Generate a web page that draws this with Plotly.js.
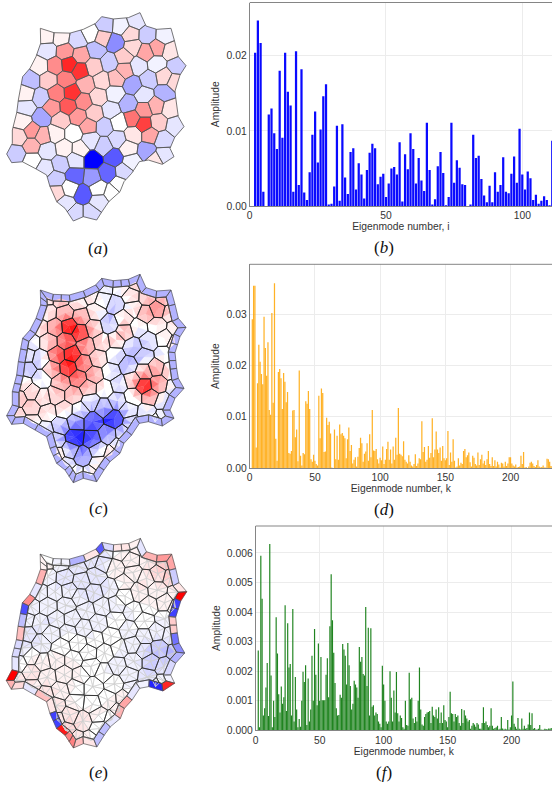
<!DOCTYPE html>
<html><head><meta charset="utf-8">
<script src="https://cdn.plot.ly/plotly-3.0.1.min.js"></script>
<style>html,body{margin:0;padding:0;background:#fff;overflow:hidden}</style>
</head><body><div id="chart" style="width:552px;height:787px"></div>
<script>
// ---- bar chart data (amplitudes, index = eigenmode number - 1) ----
const ampB = [0,.0204,.0247,.0217,.0019,0,.0122,.013,.0097,.0076,
.018,.0091,.0204,.0152,.0134,.0019,.0206,.0028,.0182,.0018,
.0008,.0045,.0095,.0126,.0058,.0102,.0146,.0162,.0002,.0003,
.0026,.0107,.0007,.0109,.0038,.0016,.0072,.0077,.0022,.0057,
.0042,.001,.0048,.0071,.0083,.0077,.0029,.0039,.0043,.0012,
.003,.005,.0052,.0042,.0085,.0006,.0069,.0049,.0097,.0076,
.003,.0064,.0034,.002,.0111,.0048,.0002,.0009,.0053,.0072,
.0044,.0001,.0012,.0111,.0031,.0061,.0051,.0029,.0028,0,
.0002,.0095,.0064,.0067,.0036,.0014,.0005,.0027,.0005,.0045,
.0019,.0028,.0065,.0019,.0017,.0043,.0066,.0031,.0103,.0042,
.0022,.0046,.0037,.0008,.0015,.0003,.0007,.0013,.0008,.0001,.0087];
const ampD = [0,290,355,355,40,165,240,207,183,163,
295,234,180,245,113,104,302,127,360,57,
14,187,193,175,115,185,168,128,148,29,
28,33,112,113,60,75,13,190,24,5,
29,27,130,125,150,115,17,12,26,14,
8,5,141,58,155,146,31,32,98,84,
90,67,1,0,75,17,63,16,85,66,
68,63,58,19,56,79,33,45,9,16,
21,3,22,39,59,48,12,28,32,48,
14,66,21,113,34,33,37,17,9,20,
15,42,8,16,37,51,16,36,9,42,
16,59,26,117,28,26,23,52,16,12,
9,25,12,5,3,8,27,4,9,19,
17,91,31,41,12,16,43,20,29,97,
21,36,71,36,29,40,14,43,19,15,
19,72,6,30,12,56,14,1,3,19,
5,10,8,33,37,21,25,30,11,3,
24,20,8,5,30,6,17,26,9,14,
6,17,33,8,4,21,4,15,3,12,
7,1,10,9,3,12,4,9,21,21,
9,5,3,7,1,2,3,24,8,31,
1,2,0,3,10,12,9,4,2,6,
15,3,1,2,5,1,1,18,17,12,
4,3].map(v=>v/10000);
const ampF = [0,270,10,590,445,50,75,145,228,48,
630,185,10,100,45,382,260,122,60,148,
90,112,423,65,362,212,224,50,410,30,
180,70,10,38,12,100,198,163,220,18,
175,30,70,252,100,343,188,85,294,100,
248,102,102,102,188,244,112,352,528,372,
262,160,75,50,52,120,110,292,273,252,
155,295,220,150,70,90,168,155,145,110,
282,232,248,190,185,417,150,347,50,345,
80,85,50,60,55,30,22,10,218,155,
100,30,22,30,200,110,30,135,60,197,
58,30,50,42,10,5,100,18,15,195,
105,110,40,25,45,30,100,212,70,20,
15,45,55,60,62,65,25,80,50,45,
70,40,78,25,60,25,85,35,30,10,
45,130,58,55,30,55,45,50,25,15,
72,25,68,50,40,30,35,5,15,25,
20,12,25,20,5,5,25,78,25,30,
18,10,15,75,15,5,8,10,15,3,
5,45,6,3,5,3,35,3,10,50,
165,22,12,5,42,5,3,40,5,15,
5,8,20,60,18,58,5,8,3,3,
5,18,3,2,2,5,4,3,6,5,
8,3].map(v=>v/100000);

const outX = [121,160,208,250,287,305,340,385,420,438,470,513,525,535,558,540,525,530,535,552,525,510,522,487,445,418,395,372,360,330,312,290,250,220,195,170,150,140,105,70,35,20,37,37,50,55,62,68,90,108,122];
const outY = [85,98,100,88,70,50,57,53,38,78,88,85,128,170,197,225,273,320,350,380,410,445,470,493,480,485,520,545,575,600,625,660,650,663,625,605,560,525,505,485,488,462,430,390,340,300,262,230,205,170,130];
const ringE = [.02,-.03,-.3,.1,-.65,-.15,.12,.03,-.08,.3,.4,.35,-.2,.08,1,-.75,.2,-.55,-.45,-.3,-.15,-.05,.85,-.85,-.05,-.08,.35,.3,-.12,-.25,-.25,.08,.25,.5,.9,-.75,.12,.25,-.12,.15,.3,1,-.08,-.15,.25,-.25,-.7,.45,-.08,.3,.04];
const seedX = [140,182,233,272,315,362,408,308,346,392,442,493,
143,195,243,288,328,372,398,438,472,511,415,470,530,
120,165,207,240,282,374,348,306,258,198,145,93,398,447,492,524,
78,122,170,216,295,345,432,493,385,250,
205,155,80,333,283,432,468,510,125,68,
183,235,397,475,432,525,265,313,357,95,
57,128,168,220,272,312,400,352,450,490,
95,142,193,240,385,440,50,96,226,278,
342,395,492,465,135,182,225,277,322,372,
168,170,210,248,295,358,335,197,298,227,272];
const seedY = [108,112,120,100,75,78,62,113,128,103,105,108,
152,155,165,150,188,170,140,157,143,153,198,192,198,
198,197,193,212,200,210,235,242,254,238,240,240,255,238,230,245,
282,293,280,278,290,282,285,278,312,305,
318,322,322,330,340,330,317,327,352,365,
362,350,355,367,373,377,378,380,367,392,
410,408,400,400,420,438,405,418,405,420,
437,452,445,447,445,452,462,482,480,480,
472,485,465,480,505,492,527,533,519,515,
537,578,565,582,565,553,578,610,605,640,640];
const valA = [.03,.04,-.15,.02,-.22,-.03,-.1,.18,-.45,.15,-.2,-.03,
-.1,.4,.35,-.25,-.2,.2,.17,.33,.35,.1,-.1,-.06,-.2,
.06,.45,.85,.8,.22,.28,.25,.17,.3,.5,.18,-.25,-.35,-.2,.13,.15,
.03,-.2,.5,.8,.17,-.05,-.08,-.28,-.28,.45,
.65,.4,-.1,-.1,.2,.42,.28,.1,-.35,.03,
.2,.4,.55,.2,.75,-.08,.33,-.22,-.02,.4,
.15,.3,.04,.01,-.08,-.22,.1,-.13,.35,-.13,
.28,-.1,.03,.05,.03,-.35,-.22,-.01,-.08,-1,
-.65,-.05,-.12,.08,-.08,-.18,-.62,-.4,-.6,-.17,
-.2,.15,-.02,-.65,-.02,-.01,-.02,-.1,-.08,-.17,-.17];
const valC = [.15,.2,.05,.1,-.1,.03,.15,0,-.25,.1,.2,.2,
.05,.3,.3,.05,-.3,.15,.05,.3,.45,.15,-.05,.05,.05,
.1,.4,.95,.8,.25,.3,.2,.15,.35,.55,.2,-.1,-.25,-.15,.05,.1,
-.1,-.15,.6,.9,.15,-.1,-.2,-.05,-.3,.5,
.9,.3,-.25,-.1,.3,.3,.35,.1,-.1,.1,
.3,.55,.25,.4,.95,-.1,.25,.05,-.15,.15,
.2,.1,.2,.25,-.15,-.3,.05,-.2,.4,-.1,
.2,.1,.1,-.12,-.1,-.1,.1,.05,-.4,-.7,
-.9,-.15,-.05,.02,-.1,-.25,-.95,-.7,-.35,-.15,
-.2,.2,-.25,-.45,-.1,-.02,.15,-.05,.1,0,0];
const valE = [.05,-.03,-.12,-.08,-.08,.05,.05,-.08,.08,.06,.08,.25,
-.03,-.12,-.12,-.12,-.08,.04,.04,.08,.15,.2,.08,.06,.08,
-.08,-.06,-.06,-.08,-.12,0,-.03,-.04,-.06,-.04,-.04,-.04,-.03,.03,.06,.08,
-.04,-.08,-.08,-.06,-.03,-.02,0,-.04,-.03,-.04,
-.03,-.06,-.1,-.02,-.02,-.06,-.04,-.04,-.08,-.1,
0,0,-.04,-.25,-.15,-.3,0,0,-.02,.03,
-.02,.04,.04,.03,0,-.02,-.04,-.04,-.2,-.15,
.1,.06,.04,.03,-.04,-.15,.08,.08,.02,0,
0,-.06,-.03,0,.12,.06,.02,0,.03,.08,
.1,.08,.12,.12,.04,.08,-.04,.15,-.04,.08,.04];
const ringCValue = -.3;

// ---- text ----
const xTitles = ['Eigenmode number, i','Eigenmode number, k','Eigenmode number, k'];
const captions = ['a','b','c','d','e','f'];

// ---- geometry helpers ----
function clipHalf(poly,ax,ay,bx,by){ // keep points closer to a than b
  const mx=(ax+bx)/2,my=(ay+by)/2,nx=bx-ax,ny=by-ay,out=[];
  const side=p=>(p[0]-mx)*nx+(p[1]-my)*ny;
  for(let i=0;i<poly.length;i++){
    const p=poly[i],q=poly[(i+1)%poly.length],sp=side(p),sq=side(q);
    if(sp<=0) out.push(p);
    if((sp<0&&sq>0)||(sp>0&&sq<0)){const t=sp/(sp-sq);out.push([p[0]+t*(q[0]-p[0]),p[1]+t*(q[1]-p[1])]);}
  }
  return out;
}
const outline = outX.map((x,i)=>[x,outY[i]]);
const N = outline.length;
function insetOutline(d){
  let area=0; for(let i=0;i<N;i++){const a=outline[i],b=outline[(i+1)%N];area+=a[0]*b[1]-b[0]*a[1];}
  const s=area>0?1:-1;
  return outline.map((p,i)=>{
    const a=outline[(i-1+N)%N],b=outline[(i+1)%N];
    const u=[p[0]-a[0],p[1]-a[1]],v=[b[0]-p[0],b[1]-p[1]];
    const lu=Math.hypot(...u),lv=Math.hypot(...v);
    const n1=[-u[1]/lu*s,u[0]/lu*s],n2=[-v[1]/lv*s,v[0]/lv*s];
    let nx=n1[0]+n2[0],ny=n1[1]+n2[1];const l=Math.hypot(nx,ny)||1;nx/=l;ny/=l;
    const c=Math.max(.6,nx*n1[0]+ny*n1[1]);
    return [p[0]+nx*d/c,p[1]+ny*d/c];
  });
}
function cells(boundary){
  return seedX.map((x,i)=>{
    let poly=boundary.slice();
    const y=seedY[i];
    seedX.forEach((x2,j)=>{ if(j!==i&&poly.length) poly=clipHalf(poly,x,y,x2,seedY[j]); });
    return poly;
  });
}
function colorOf(v){
  v=Math.max(-1,Math.min(1,Math.round(v*20)/20));
  const t=Math.abs(v),w=Math.round(255*(1-t));
  return v>=0?`rgb(255,${w},${w})`:`rgb(${w},${w},255)`;
}
function nearestOther(i,m){
  let best=-1,bd=1e9;
  seedX.forEach((x,j)=>{ if(j===i)return; const d=Math.hypot(x-m[0],seedY[j]-m[1]); if(d<bd){bd=d;best=j;} });
  return best;
}

// ---- trace builders ----
const traces=[];
function addFills(groups,tf){
  Object.keys(groups).forEach(col=>{
    const xs=[],ys=[];
    groups[col].forEach(poly=>{
      poly.forEach(p=>{const q=tf(p);xs.push(q[0]);ys.push(q[1]);});
      const q=tf(poly[0]);xs.push(q[0],null);ys.push(q[1],null);
    });
    traces.push({type:'scatter',mode:'lines',x:xs,y:ys,xaxis:'x4',yaxis:'y4',fill:'toself',fillcolor:col,
      line:{color:col,width:.4},hoverinfo:'skip',showlegend:false});
  });
}
function addLines(polys,tf,color,width){
  const xs=[],ys=[];
  polys.forEach(poly=>{
    poly.forEach(p=>{const q=tf(p);xs.push(q[0]);ys.push(q[1]);});
    const q=tf(poly[0]);xs.push(q[0],null);ys.push(q[1],null);
  });
  traces.push({type:'scatter',mode:'lines',x:xs,y:ys,xaxis:'x4',yaxis:'y4',
    line:{color:color,width:width},hoverinfo:'skip',showlegend:false});
}
function group(g,v,poly){const c=colorOf(v);(g[c]=g[c]||[]).push(poly);}

// panel (a): plain cells
(function(){
  const tf=p=>[p[0]/3,p[1]/3];
  const cs=cells(outline),g={};
  cs.forEach((c,i)=>{ if(c.length) group(g,valA[i],c); });
  addFills(g,tf);
  addLines(cs.filter(c=>c.length),tf,'#555555',.8);
})();

// panels (c), (e): ring of boundary quads, inner cells split into triangles
function triangulated(vals,ringVal,tf,spokeColor,cellColor,cellWidth){
  const inner=insetOutline(20);
  const cs=cells(inner),g={},quads=[],spokes=[];
  for(let i=0;i<N;i++){
    const a=outline[i],b=outline[(i+1)%N],c=inner[(i+1)%N],d=inner[i];
    const n=Math.max(1,Math.round(Math.hypot(b[0]-a[0],b[1]-a[1])/30));
    for(let k=0;k<n;k++){
      const s=k/n,t=(k+1)/n;
      const L=(p,q,u)=>[p[0]+(q[0]-p[0])*u,p[1]+(q[1]-p[1])*u];
      const q=[L(a,b,s),L(a,b,t),L(d,c,t),L(d,c,s)];
      group(g,ringVal(i),q);quads.push(q);
    }
  }
  cs.forEach((c,i)=>{
    if(!c.length)return;
    const o=[seedX[i],seedY[i]];
    c.forEach((p,k)=>{
      const q=c[(k+1)%c.length];
      if(Math.hypot(p[0]-q[0],p[1]-q[1])<.5)return;
      const m=[(p[0]+q[0])/2,(p[1]+q[1])/2],j=nearestOther(i,m);
      group(g,.7*vals[i]+.3*vals[j],[o,p,q]);
      spokes.push([o,p]);
    });
  });
  addFills(g,tf);
  addLines(spokes,tf,spokeColor,.6);
  addLines(cs.filter(c=>c.length),tf,cellColor,cellWidth);
  addLines(quads,tf,'#4d4d4d',.65);
}
triangulated(valC,()=>ringCValue,p=>[p[0]/3,(p[1]+5)/3+260],'rgba(255,255,255,0)','#1f1f1f',.85);
triangulated(valE,i=>ringE[i],p=>[(p[0]-280)*1.006/3+93.5,(p[1]-350)*1.006/3+120+520+3],'#cfcfcf','#2b2b2b',.75);

// ---- bars ----
const idx=a=>a.map((_,i)=>i+1);
traces.push({type:'bar',x:idx(ampB),y:ampB,xaxis:'x',yaxis:'y',width:.82,marker:{color:'rgb(10,10,255)',line:{width:0}},hoverinfo:'skip',showlegend:false});
traces.push({type:'bar',x:idx(ampD),y:ampD,xaxis:'x2',yaxis:'y2',width:.95,marker:{color:'rgba(255,165,0,.85)',line:{width:0}},hoverinfo:'skip',showlegend:false});
traces.push({type:'bar',x:idx(ampF),y:ampF,xaxis:'x3',yaxis:'y3',width:.92,marker:{color:'rgba(20,125,20,.95)',line:{width:0}},hoverinfo:'skip',showlegend:false});

const W=552,H=787;
const tickFont={family:'Liberation Sans, Arial, sans-serif',size:10.3,color:'#333'};
const frame='#858585';
function xAx(l,xmax,dt,title,anchor){return {domain:[l/W,1],range:[0,xmax],dtick:dt,tick0:0,showgrid:true,gridcolor:'#ececec',gridwidth:1,
  zeroline:false,showline:true,linecolor:frame,linewidth:1,ticks:'',tickfont:tickFont,anchor:anchor,
  title:{text:title,font:tickFont,standoff:2}};}
function yAx(t,b,ymax,dt,fmt,anchor){return {domain:[1-b/H,1-t/H],range:[0,ymax],dtick:dt,tick0:0,tickformat:fmt,showgrid:true,gridcolor:'#ececec',gridwidth:1,
  zeroline:false,showline:true,linecolor:frame,linewidth:1,ticks:'',tickfont:tickFont,anchor:anchor,
  title:{text:'Amplitude',font:tickFont,standoff:4}};}
function topLine(l,y){return {type:'line',xref:'paper',yref:'paper',x0:l/W,x1:1,y0:1-y/H,y1:1-y/H,line:{color:frame,width:1}};}
const capPos=[[98,248],[384,247],[98,508],[384,510],[98,772],[384,772]];
const layout={width:W,height:H,margin:{l:0,r:0,t:0,b:0},paper_bgcolor:'#fff',plot_bgcolor:'rgba(0,0,0,0)',barmode:'overlay',showlegend:false,
  xaxis:xAx(249.7,110.9,50,xTitles[0],'y'),yaxis:yAx(2.5,206,.0271,.01,'.2f','x'),
  xaxis2:xAx(249.7,231.8,50,xTitles[1],'y2'),yaxis2:yAx(264.3,468,.0397,.01,'.2f','x2'),
  xaxis3:xAx(255.7,231.6,50,xTitles[2],'y3'),yaxis3:yAx(526,730.3,.00691,.001,'.3f','x3'),
  xaxis4:{domain:[0,1],range:[0,W],visible:false,anchor:'y4'},yaxis4:{domain:[0,1],range:[H,0],visible:false,anchor:'x4'},
  shapes:[topLine(249.7,2.5),topLine(249.7,264.3),topLine(255.7,526)],
  annotations:captions.map((c,i)=>({xref:'paper',yref:'paper',x:capPos[i][0]/W,y:1-capPos[i][1]/H,showarrow:false,xanchor:'center',yanchor:'middle',
    text:'(<i>'+c+'</i>)',font:{family:'Liberation Serif, serif',size:17,color:'#111'}}))};
Plotly.newPlot('chart',traces,layout,{staticPlot:true,displayModeBar:false});
</script></body></html>
